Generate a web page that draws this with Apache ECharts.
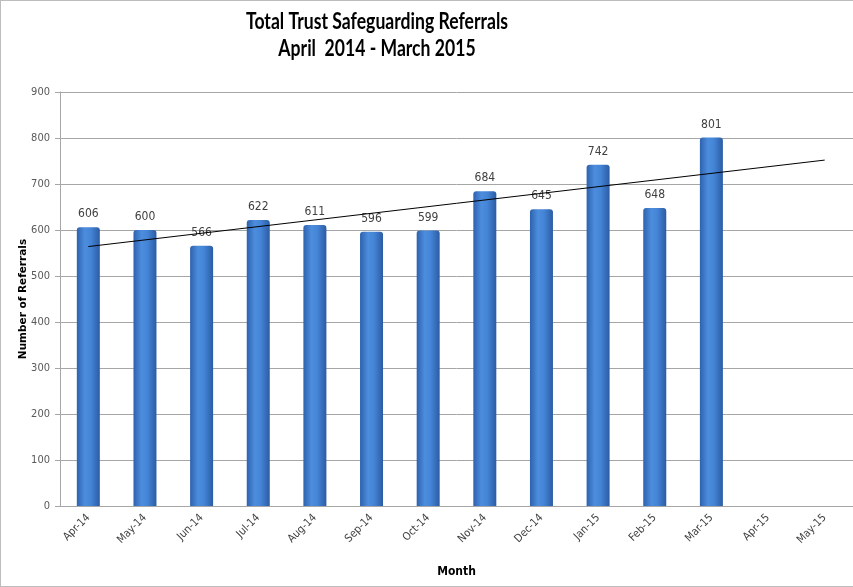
<!DOCTYPE html>
<html>
<head>
<meta charset="utf-8">
<script src="https://cdn.jsdelivr.net/npm/echarts@6/dist/echarts.min.js"></script>
<style>
html,body{margin:0;padding:0;background:#fff;}
#c{width:852px;height:585px;border:1px solid #bdbdbd;border-right:none;}
</style>
</head>
<body>
<div id="c"></div>
<script>
const categories = ['Apr-14','May-14','Jun-14','Jul-14','Aug-14','Sep-14','Oct-14','Nov-14','Dec-14','Jan-15','Feb-15','Mar-15','Apr-15','May-15'];
const referrals = [606,600,566,622,611,596,599,684,645,742,648,801,null,null];
const trendEnds = [564,null,null,null,null,null,null,null,null,null,null,null,null,752];
const yTicks = [0,100,200,300,400,500,600,700,800,900];
const titleLines = ['Total Trust Safeguarding Referrals','April  2014 - March 2015'];

const chart = echarts.init(document.getElementById('c'));
const narrow = "'Liberation Sans Narrow','Arial Narrow','DejaVu Sans Condensed',sans-serif";
const titleFont = "Lato,'Open Sans',sans-serif";
chart.setOption({
  animation:false,
  graphic:[
    {type:'text', x:376, y:21, scaleX:0.8, scaleY:1,
     style:{text:titleLines[0], fontFamily:titleFont, fontSize:22, fontWeight:'bold', fill:'#000', align:'center', verticalAlign:'middle'}},
    {type:'text', x:376, y:48, scaleX:0.8, scaleY:1,
     style:{text:titleLines[1], fontFamily:titleFont, fontSize:22, fontWeight:'bold', fill:'#000', align:'center', verticalAlign:'middle'}}
  ],
  grid:{left:59,right:0,top:91,bottom:80,containLabel:false},
  xAxis:{
    type:'category', data:categories,
    name:'Month', nameLocation:'middle', nameGap:60,
    nameTextStyle:{fontFamily:narrow,fontSize:12,fontWeight:'bold',color:'#000'},
    axisLine:{lineStyle:{color:'#a6a6a6',width:1}},
    axisTick:{show:false},
    axisLabel:{rotate:45,fontFamily:narrow,fontSize:11,color:'#404040',margin:10,interval:0}
  },
  yAxis:{
    type:'value', min:yTicks[0], max:yTicks[yTicks.length-1], interval:100,
    name:'Number of Referrals', nameLocation:'middle', nameGap:31, nameMoveOverlap:false,
    nameTextStyle:{fontFamily:"'DejaVu Sans','Liberation Sans',sans-serif",fontSize:10.5,fontWeight:'bold',color:'#000'},
    axisLine:{show:true,lineStyle:{color:'#a6a6a6'}},
    axisTick:{show:true,length:5,lineStyle:{color:'#a6a6a6'}},
    axisLabel:{fontFamily:narrow,fontSize:11,color:'#595959',margin:10},
    splitLine:{lineStyle:{color:'#a6a6a6',width:1}}
  },
  series:[
    {
      type:'bar', data:referrals, barWidth:23,
      itemStyle:{
        color:new echarts.graphic.LinearGradient(0,0,1,0,[
          {offset:0,color:'#2d62ae'},
          {offset:0.35,color:'#4d8ddd'},
          {offset:0.6,color:'#4585d7'},
          {offset:1,color:'#2b5ca4'}
        ]),
        borderRadius:[3,3,0,0]
      },
      label:{show:true,position:'top',distance:7,fontFamily:narrow,fontSize:12,color:'#404040'},
      z:2
    },
    {
      type:'line', data:trendEnds, connectNulls:true, symbol:'none',
      lineStyle:{color:'#000',width:1}, z:5, silent:true
    }
  ]
});
</script>
</body>
</html>
